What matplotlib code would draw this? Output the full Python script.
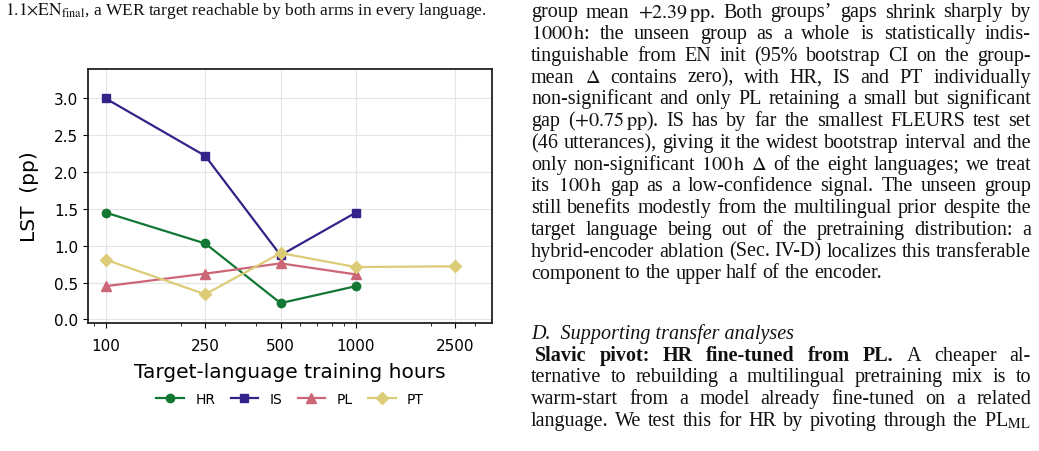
import matplotlib.pyplot as plt
from matplotlib.ticker import NullFormatter
import numpy as np

plt.rcParams['mathtext.fontset'] = 'stix'

# chart data (LST gap, pp)
hours = [100, 250, 500, 1000, 2500]
hr_vals = [1.45, 1.03, 0.22, 0.45]
is_vals = [3.00, 2.22, 0.87, 1.45]
pl_vals = [0.45, 0.62, 0.76, 0.61]
pt_vals = [0.81, 0.34, 0.90, 0.71, 0.72]
y_ticks = [0.0, 0.5, 1.0, 1.5, 2.0, 2.5, 3.0]

# surrounding page text
caption_tail = r"$1.1{\times}\mathrm{EN}_{\mathrm{final}}$, a WER target reachable by both arms in every language."
para1 = [
    r"group mean $+2.39\,\mathrm{pp}$. Both groups’ gaps shrink sharply by",
    r"$1000\,\mathrm{h}$: the unseen group as a whole is statistically indis-",
    r"tinguishable from EN init (95% bootstrap CI on the group-",
    r"mean $\Delta$ contains zero), with HR, IS and PT individually",
    r"non-significant and only PL retaining a small but significant",
    r"gap ($+0.75\,\mathrm{pp}$). IS has by far the smallest FLEURS test set",
    r"(46 utterances), giving it the widest bootstrap interval and the",
    r"only non-significant $100\,\mathrm{h}$ $\Delta$ of the eight languages; we treat",
    r"its $100\,\mathrm{h}$ gap as a low-confidence signal. The unseen group",
    r"still benefits modestly from the multilingual prior despite the",
    r"target language being out of the pretraining distribution: a",
    r"hybrid-encoder ablation (Sec. IV-D) localizes this transferable",
    r"component to the upper half of the encoder.",
]
heading = "D.  Supporting transfer analyses"
pivot_bold = "Slavic pivot: HR fine-tuned from PL."
para2 = [
    "A cheaper al-",
    "ternative to rebuilding a multilingual pretraining mix is to",
    "warm-start from a model already fine-tuned on a related",
    r"language. We test this for HR by pivoting through the PL$_{\mathrm{ML}}$",
]

W, H = 1039, 452
fig = plt.figure(figsize=(W / 100, H / 100), dpi=100)
ax = fig.add_axes([88 / W, 1 - 324 / H, (492 - 88) / W, (324 - 70) / H])

colors = {'HR': '#117733', 'IS': '#332288', 'PL': '#CC6677', 'PT': '#DDCC77'}
ax.plot(hours[:4], hr_vals, '-o', color=colors['HR'], lw=1.6, ms=6, label='HR')
ax.plot(hours[:4], is_vals, '-s', color=colors['IS'], lw=1.6, ms=6, label='IS')
ax.plot(hours[:4], pl_vals, '-^', color=colors['PL'], lw=1.6, ms=6.5, label='PL')
ax.plot(hours, pt_vals, '-D', color=colors['PT'], lw=1.6, ms=6, label='PT')

ax.set_xscale('log')
ax.set_xlim(85, 3500)
ax.set_ylim(-0.05, 3.4)
ax.set_xticks(hours, labels=[str(h) for h in hours])
ax.xaxis.set_minor_formatter(NullFormatter())
ax.set_yticks(y_ticks)
ax.tick_params(labelsize=11)
ax.tick_params(axis='x', which='major', pad=7)
ax.grid(True, which='major', color='#e4e4e4', lw=0.8)
ax.set_axisbelow(True)
for s in ax.spines.values():
    s.set_linewidth(1.3)
    s.set_color('#222222')
ax.set_xlabel('Target-language training hours', fontsize=14.5, labelpad=7)
ax.set_ylabel('LST  (pp)', fontsize=14.5, labelpad=10.5)

fig.legend(loc='center', bbox_to_anchor=(290 / W, 1 - 400 / H), ncol=4,
           frameon=False, fontsize=10, columnspacing=1.1, handletextpad=0.8)

# ---- page text, justified word by word ----
renderer = fig.canvas.get_renderer()
body_fs = 14.5
serif = 'Liberation Serif'


def put_line(tokens, base_y, x0, x1, justify=True, fs=body_fs):
    texts = []
    for word, style in tokens:
        kw = {}
        if style == 'bold':
            kw['fontweight'] = 'bold'
        elif style == 'italic':
            kw['fontstyle'] = 'italic'
        texts.append(fig.text(0, 1 - base_y / H, word, fontsize=fs, family=serif,
                              ha='left', va='baseline', color='#111111', **kw))
    widths = [t.get_window_extent(renderer).width for t in texts]
    if justify and len(texts) > 1:
        gap = (x1 - x0 - sum(widths)) / (len(texts) - 1)
    else:
        gap = 0.25 * fs * 100 / 72
    x = x0
    for t, w in zip(texts, widths):
        t.set_x(x / W)
        x += w + gap


col_x0, col_x1 = 531, 1031
line_h = 21.75

fig.text(5 / W, 1 - 15 / H, caption_tail, fontsize=12.5, family=serif,
         ha='left', va='baseline', color='#111111')

for i, line in enumerate(para1):
    last = i == len(para1) - 1
    put_line([(w, 'normal') for w in line.split()], 17.5 + i * line_h,
             col_x0, col_x1, justify=not last)

fig.text(col_x0 / W, 1 - 339 / H, heading, fontsize=body_fs, family=serif,
         fontstyle='italic', ha='left', va='baseline', color='#111111')

for i, line in enumerate(para2):
    toks = [(w, 'normal') for w in line.split()]
    x0 = col_x0
    if i == 0:
        toks = [(w, 'bold') for w in pivot_bold.split()] + toks
        x0 = col_x0 + 4
    put_line(toks, 339 + (i + 1) * line_h, x0, col_x1)

fig.savefig('out.png', dpi=100)
